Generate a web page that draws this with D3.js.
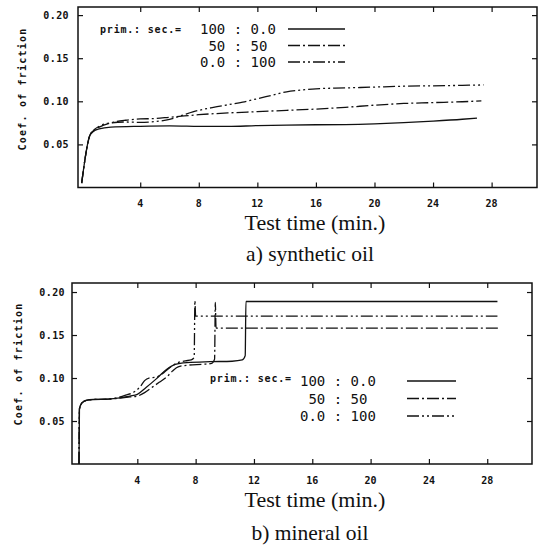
<!DOCTYPE html>
<html><head><meta charset="utf-8">
<script src="https://cdn.jsdelivr.net/npm/d3@7"></script>
<style>body{margin:0;background:#fff}svg{display:block}</style>
</head><body>
<svg id="c" width="543" height="546"></svg>
<script>
// ---------- data ----------
const xTicks = [4, 8, 12, 16, 20, 24, 28];
const yTicks = [0.05, 0.10, 0.15, 0.20];
const yTickLabels = ["0.05", "0.10", "0.15", "0.20"];
const legendRatios = ["100 : 0.0", " 50 : 50", "0.0 : 100"];
const legendHead = "prim.: sec.=";
const xTitle = "Test time (min.)";
const yTitle = "Coef. of friction";
const panelTitles = ["a) synthetic oil", "b) mineral oil"];

// synthetic oil  [time (min), coef. of friction]
const syn100 = [[0,0.005],[0.55,0.060],[0.8,0.065],[1.2,0.068],[2,0.070],[4,0.071],[6,0.0715],[8,0.071],[10,0.0708],[12,0.0718],[14,0.0724],[16,0.0728],[18,0.073],[20,0.0738],[22,0.0752],[24,0.077],[26,0.0792],[27.0,0.0806]];
const syn50  = [[0,0.005],[0.55,0.060],[0.8,0.066],[1.2,0.070],[2,0.075],[3,0.078],[4,0.0795],[5,0.080],[6,0.0815],[7,0.083],[8,0.0845],[10,0.0865],[12,0.088],[14,0.0895],[16,0.091],[18,0.093],[20,0.0955],[22,0.0975],[24,0.0985],[26,0.0995],[27.3,0.1005]];
const syn0   = [[0,0.005],[0.55,0.060],[0.8,0.066],[1.2,0.071],[2,0.075],[3,0.076],[4,0.0755],[5,0.0765],[6,0.079],[7,0.0845],[8,0.0895],[9,0.093],[10,0.096],[11,0.099],[12,0.103],[13,0.107],[14,0.111],[15,0.113],[16,0.1145],[18,0.1155],[20,0.1165],[22,0.1175],[24,0.118],[26,0.1185],[27.45,0.119]];

// mineral oil
const min100 = [[0,0.0],[0.03,0.064],[0.2,0.071],[0.5,0.074],[1,0.075],[2,0.0755],[2.8,0.077],[3.5,0.079],[4.0,0.081],[4.6,0.089],[5.3,0.099],[6.0,0.110],[6.6,0.116],[7.4,0.118],[9,0.119],[10.5,0.1195],[11.2,0.121],[11.4,0.126],[11.45,0.189],[28.7,0.189]];
const min50  = [[0,0.0],[0.03,0.064],[0.2,0.071],[0.5,0.074],[1,0.075],[2,0.0755],[2.8,0.0765],[3.5,0.078],[4.0,0.079],[4.5,0.083],[5.0,0.089],[5.5,0.095],[6.0,0.101],[6.4,0.108],[6.8,0.113],[7.5,0.115],[8.5,0.116],[9.1,0.117],[9.3,0.122],[9.35,0.188],[9.4,0.158],[28.9,0.158]];
const min0   = [[0,0.0],[0.03,0.064],[0.2,0.071],[0.5,0.074],[1,0.075],[2,0.0755],[2.6,0.077],[3.2,0.080],[3.8,0.084],[4.2,0.090],[4.5,0.097],[4.8,0.100],[5.3,0.101],[5.8,0.106],[6.3,0.113],[6.8,0.118],[7.3,0.120],[7.7,0.121],[7.9,0.124],[7.95,0.190],[8.0,0.172],[28.7,0.172]];

// ---------- drawing ----------
const svg = d3.select("#c");
const dashes = [null, "12,3,2,3", "12,3,2,3,2,3"];
const monoFont = "'DejaVu Sans Mono', monospace";
const serifFont = "'Liberation Serif', 'Times New Roman', serif";

function panel(cfg, series) {
  const x = d3.scaleLinear().domain(cfg.xd).range([cfg.l, cfg.r]);
  const y = d3.scaleLinear().domain(cfg.yd).range([cfg.b, cfg.t]);
  const g = svg.append("g");

  // curves
  const line = d3.line().x(d => x(d[0])).y(d => y(d[1])).curve(d3.curveMonotoneX);
  series.forEach((s, i) => {
    g.append("path").datum(s).attr("d", line)
      .attr("fill", "none").attr("stroke", "#111").attr("stroke-width", 1.3)
      .attr("stroke-dasharray", dashes[i]);
  });

  // axes (inward ticks on all four sides)
  const ax = g.append("g");
  ax.append("g").attr("transform", `translate(0,${cfg.b})`)
    .call(d3.axisTop(x).tickValues(xTicks).tickSize(5).tickFormat(""))
    .call(a => a.select(".domain").remove());
  ax.append("g").attr("transform", `translate(0,${cfg.t})`)
    .call(d3.axisBottom(x).tickValues(xTicks).tickSize(5).tickFormat(""))
    .call(a => a.select(".domain").remove());
  ax.append("g").attr("transform", `translate(${cfg.l},0)`)
    .call(d3.axisRight(y).tickValues(yTicks).tickSize(5).tickFormat(""))
    .call(a => a.select(".domain").remove());
  ax.append("g").attr("transform", `translate(${cfg.r},0)`)
    .call(d3.axisLeft(y).tickValues(yTicks).tickSize(5).tickFormat(""))
    .call(a => a.select(".domain").remove());
  ax.selectAll("line").attr("stroke", "#111").attr("stroke-width", 1.2);

  g.append("rect").attr("x", cfg.l).attr("y", cfg.t)
    .attr("width", cfg.r - cfg.l).attr("height", cfg.b - cfg.t)
    .attr("fill", "none").attr("stroke", "#111").attr("stroke-width", 1.5);

  // tick labels
  g.selectAll(".xl").data(xTicks).enter().append("text")
    .attr("x", d => x(d)).attr("y", cfg.xLabY).attr("text-anchor", "middle")
    .attr("font-family", monoFont).attr("font-weight", "bold").attr("font-size", 10)
    .attr("fill", "#111").text(d => d);
  g.selectAll(".yl").data(yTicks).enter().append("text")
    .attr("x", cfg.yLabX).attr("y", d => y(d) + 3.5).attr("text-anchor", "end")
    .attr("font-family", monoFont).attr("font-weight", "bold").attr("font-size", 10)
    .attr("letter-spacing", 0.4)
    .attr("fill", "#111").text((d, i) => yTickLabels[i]);

  // y title
  g.append("text").attr("transform", `translate(${cfg.yTitleX},${cfg.yTitleY}) rotate(-90)`)
    .attr("text-anchor", "middle").attr("font-family", monoFont).attr("font-weight", "bold")
    .attr("font-size", 10).attr("letter-spacing", 1.2).attr("fill", "#111").text(yTitle);

  // x title & panel title
  g.append("text").attr("x", cfg.xTitleX).attr("y", cfg.xTitleY).attr("text-anchor", "middle")
    .attr("font-family", serifFont).attr("font-size", 22)
    .attr("fill", "#111").text(xTitle);
  g.append("text").attr("x", cfg.pTitleX).attr("y", cfg.pTitleY).attr("text-anchor", "middle")
    .attr("font-family", serifFont).attr("font-size", 21.5)
    .attr("fill", "#111").text(cfg.pTitle);

  // legend
  const L = cfg.leg;
  g.append("text").attr("x", L.headX).attr("y", L.headY)
    .attr("font-family", monoFont).attr("font-weight", "bold").attr("font-size", 10)
    .attr("letter-spacing", 0.8).attr("fill", "#111").text(legendHead);
  legendRatios.forEach((r, i) => {
    const ly = L.y0 + i * L.dy;
    g.append("text").attr("x", L.textX).attr("y", ly + 5).attr("xml:space", "preserve")
      .style("white-space", "pre")
      .attr("font-family", monoFont).attr("font-size", 14).attr("fill", "#111").text(r);
    g.append("line").attr("x1", L.x1).attr("x2", L.x2).attr("y1", ly).attr("y2", ly)
      .attr("stroke", "#111").attr("stroke-width", 1.4).attr("stroke-dasharray", dashes[i]);
  });
}

panel({xd:[-0.25,31.1], yd:[0,0.2094], l:78, r:537, t:7, b:187.5,
       xLabY:207, yLabX:69, yTitleX:26, yTitleY:89,
       xTitleX:315, xTitleY:230, pTitleX:310, pTitleY:261, pTitle:panelTitles[0],
       leg:{headX:100, headY:33, textX:200, y0:29, dy:16.5, x1:288, x2:345}},
      [syn100, syn50, syn0]);

panel({xd:[-0.48,31.07], yd:[0,0.2105], l:72, r:532, t:283, b:464,
       xLabY:484, yLabX:65, yTitleX:22, yTitleY:364,
       xTitleX:315, xTitleY:507, pTitleX:310, pTitleY:540, pTitle:panelTitles[1],
       leg:{headX:210, headY:382, textX:300, y0:381, dy:17.5, x1:407, x2:456}},
      [min100, min50, min0]);
</script>
</body></html>
